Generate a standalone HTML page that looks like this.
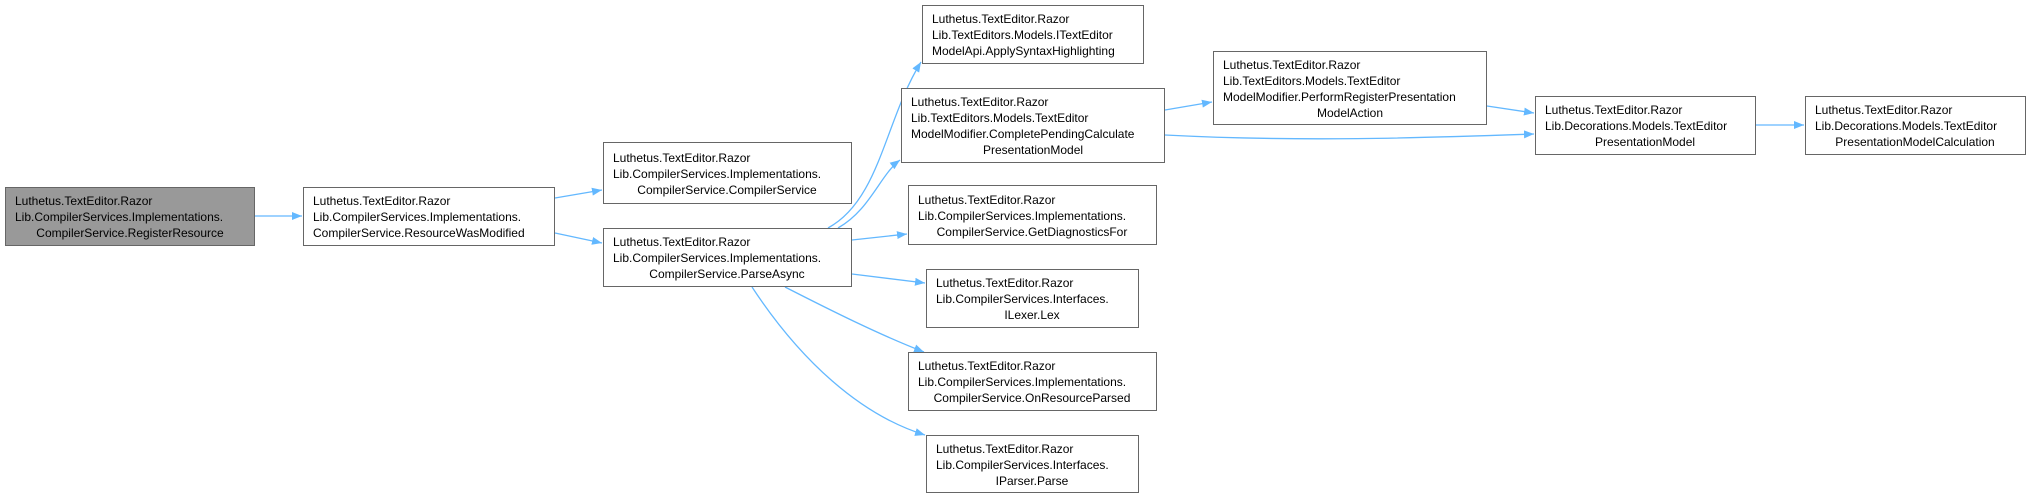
<!DOCTYPE html>
<html><head><meta charset="utf-8"><style>
html,body{margin:0;padding:0;background:#fff;}
svg{display:block;}
text{font-family:"Liberation Sans",Arial,sans-serif;font-size:12px;fill:#000;}
</style></head><body>
<svg width="2031" height="499" xmlns="http://www.w3.org/2000/svg">
<defs><marker id="ar" markerWidth="10" markerHeight="8" refX="10" refY="4" orient="auto" markerUnits="userSpaceOnUse"><path d="M0,0 L10,4 L0,8 z" fill="#63b8ff"/></marker></defs>
<g fill="none" stroke="#63b8ff" stroke-width="1.3" marker-end="url(#ar)">
<path d="M255,216 L302,216"/>
<path d="M555,198 L602,190"/>
<path d="M555,233 L602,243"/>
<path d="M828,228 C880,200 885,120 921,62"/>
<path d="M838,228 C870,210 880,175 900,160"/>
<path d="M852,240 L907,234"/>
<path d="M852,274 L925,283"/>
<path d="M785,287 C830,310 880,335 924,352"/>
<path d="M752,287 C800,360 860,415 925,435"/>
<path d="M1165,110 L1212,102"/>
<path d="M1165,135 C1300,142 1420,138 1534,134"/>
<path d="M1487,106 L1534,113"/>
<path d="M1756,125 L1804,125"/>
</g>
<g stroke="#666" stroke-width="1">
<rect x="5.5" y="187.5" width="249" height="58" fill="#999"/>
<rect x="303.5" y="187.5" width="251" height="58" fill="#fff"/>
<rect x="603.5" y="142.5" width="248" height="61" fill="#fff"/>
<rect x="603.5" y="228.5" width="248" height="58" fill="#fff"/>
<rect x="922.5" y="5.5" width="221" height="58" fill="#fff"/>
<rect x="901.5" y="88.5" width="263" height="74" fill="#fff"/>
<rect x="1213.5" y="51.5" width="273" height="73" fill="#fff"/>
<rect x="1535.5" y="96.5" width="220" height="58" fill="#fff"/>
<rect x="1805.5" y="96.5" width="220" height="58" fill="#fff"/>
<rect x="908.5" y="185.5" width="248" height="59" fill="#fff"/>
<rect x="926.5" y="269.5" width="212" height="58" fill="#fff"/>
<rect x="908.5" y="352.5" width="248" height="58" fill="#fff"/>
<rect x="926.5" y="435.5" width="212" height="57" fill="#fff"/>
</g>
<text x="15" y="205">Luthetus.TextEditor.Razor</text>
<text x="15" y="221">Lib.CompilerServices.Implementations.</text>
<text x="130" y="237" text-anchor="middle">CompilerService.RegisterResource</text>

<text x="313" y="205">Luthetus.TextEditor.Razor</text>
<text x="313" y="221">Lib.CompilerServices.Implementations.</text>
<text x="313" y="237">CompilerService.ResourceWasModified</text>

<text x="613" y="162">Luthetus.TextEditor.Razor</text>
<text x="613" y="178">Lib.CompilerServices.Implementations.</text>
<text x="727" y="194" text-anchor="middle">CompilerService.CompilerService</text>

<text x="613" y="246">Luthetus.TextEditor.Razor</text>
<text x="613" y="262">Lib.CompilerServices.Implementations.</text>
<text x="727" y="278" text-anchor="middle">CompilerService.ParseAsync</text>

<text x="932" y="23">Luthetus.TextEditor.Razor</text>
<text x="932" y="39">Lib.TextEditors.Models.ITextEditor</text>
<text x="932" y="55">ModelApi.ApplySyntaxHighlighting</text>

<text x="911" y="106">Luthetus.TextEditor.Razor</text>
<text x="911" y="122">Lib.TextEditors.Models.TextEditor</text>
<text x="911" y="138">ModelModifier.CompletePendingCalculate</text>
<text x="1033" y="154" text-anchor="middle">PresentationModel</text>

<text x="1223" y="69">Luthetus.TextEditor.Razor</text>
<text x="1223" y="85">Lib.TextEditors.Models.TextEditor</text>
<text x="1223" y="101">ModelModifier.PerformRegisterPresentation</text>
<text x="1350" y="117" text-anchor="middle">ModelAction</text>

<text x="1545" y="114">Luthetus.TextEditor.Razor</text>
<text x="1545" y="130">Lib.Decorations.Models.TextEditor</text>
<text x="1645" y="146" text-anchor="middle">PresentationModel</text>

<text x="1815" y="114">Luthetus.TextEditor.Razor</text>
<text x="1815" y="130">Lib.Decorations.Models.TextEditor</text>
<text x="1915" y="146" text-anchor="middle">PresentationModelCalculation</text>

<text x="918" y="204">Luthetus.TextEditor.Razor</text>
<text x="918" y="220">Lib.CompilerServices.Implementations.</text>
<text x="1032" y="236" text-anchor="middle">CompilerService.GetDiagnosticsFor</text>

<text x="936" y="287">Luthetus.TextEditor.Razor</text>
<text x="936" y="303">Lib.CompilerServices.Interfaces.</text>
<text x="1032" y="319" text-anchor="middle">ILexer.Lex</text>

<text x="918" y="370">Luthetus.TextEditor.Razor</text>
<text x="918" y="386">Lib.CompilerServices.Implementations.</text>
<text x="1032" y="402" text-anchor="middle">CompilerService.OnResourceParsed</text>

<text x="936" y="453">Luthetus.TextEditor.Razor</text>
<text x="936" y="469">Lib.CompilerServices.Interfaces.</text>
<text x="1032" y="485" text-anchor="middle">IParser.Parse</text>
</svg>
</body></html>
